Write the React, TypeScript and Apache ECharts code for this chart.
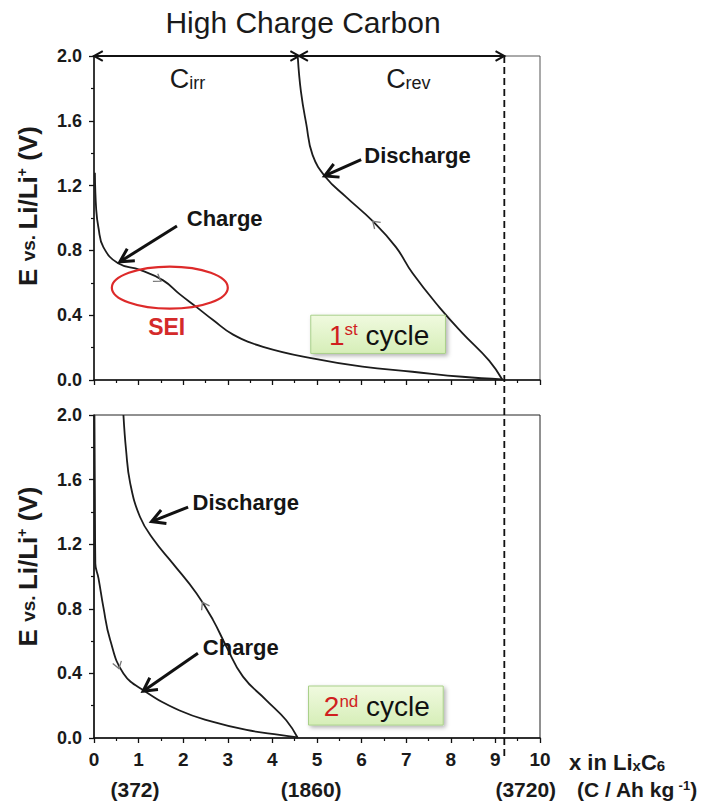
import React, { useEffect, useRef } from 'react';
import * as echarts from 'echarts';

// ---------- data ----------
const xTickValues = [0, 1, 2, 3, 4, 5, 6, 7, 8, 9, 10];

// 1st cycle (top panel)
const cycle1Charge: number[][] = [
  [0.02, 1.28], [0.05, 1.05], [0.1, 0.94], [0.21, 0.82], [0.54, 0.72], [1.03, 0.68],
  [1.55, 0.615], [1.92, 0.53], [2.3, 0.45], [2.67, 0.37], [3.12, 0.28], [3.79, 0.205],
  [4.9, 0.133], [6.02, 0.082], [7.14, 0.051], [8.26, 0.02], [9.16, 0.004],
];
const cycle1Discharge: number[][] = [
  [4.57, 1.99], [4.64, 1.78], [4.76, 1.58], [4.9, 1.39], [5.2, 1.25], [5.65, 1.13],
  [6.25, 0.98], [6.77, 0.82], [7.14, 0.66], [7.74, 0.45], [8.26, 0.29], [8.86, 0.12],
  [9.16, 0.0],
];
// 2nd cycle (bottom panel)
const cycle2Charge: number[][] = [
  [0.01, 2.0], [0.02, 1.5], [0.03, 1.08], [0.1, 0.99], [0.21, 0.81], [0.36, 0.61],
  [0.66, 0.4], [1.14, 0.29], [1.92, 0.17], [2.67, 0.1], [3.42, 0.05], [4.16, 0.019],
  [4.57, 0.004],
];
const cycle2Discharge: number[][] = [
  [0.66, 2.0], [0.72, 1.78], [0.81, 1.58], [1.03, 1.37], [1.33, 1.23], [1.77, 1.08],
  [2.3, 0.895], [2.67, 0.73], [2.97, 0.565], [3.34, 0.38], [3.86, 0.235], [4.31, 0.11],
  [4.57, 0.0],
];

// capacity boundaries (x in LixC6)
const irrEnd = 4.6;
const revEnd = 9.2;

// annotation arrows: [panel, fromX, fromY, toX, toY]
const annotationArrows: number[][] = [
  [0, 1.86, 0.95, 0.58, 0.73],
  [0, 5.99, 1.36, 5.17, 1.26],
  [1, 2.11, 1.43, 1.29, 1.34],
  [1, 2.33, 0.525, 1.1, 0.29],
];
// annotation labels: panel, x, y, text
const annotationLabels: [number, number, number, string][] = [
  [0, 2.08, 1.0, 'Charge'],
  [0, 6.06, 1.385, 'Discharge'],
  [1, 2.21, 1.46, 'Discharge'],
  [1, 2.44, 0.56, 'Charge'],
];
// small direction chevrons on curves: panel, fromX, fromY, toX, toY
const curveChevrons: number[][] = [
  [0, 1.3, 0.645, 1.5, 0.61],
  [0, 6.45, 0.93, 6.25, 0.98],
  [1, 0.45, 0.53, 0.56, 0.43],
  [1, 2.55, 0.78, 2.43, 0.84],
];
// SEI ellipse: center x, y, radius x, radius y (data units)
const seiEllipse = [1.7, 0.57, 1.3, 0.13];
const seiLabel = [1.63, 0.326];
// cycle boxes: panel, x1, y1(top), x2, y2(bottom), ordinal, suffix
const cycleBoxes: [number, number, number, number, number, string, string][] = [
  [0, 4.86, 0.4, 7.88, 0.164, '1', 'st'],
  [1, 4.81, 0.322, 7.83, 0.08, '2', 'nd'],
];
const capacityLabels: [number, string][] = [
  [0.92, '(372)'],
  [4.87, '(1860)'],
  [9.68, '(3720)'],
];

const FONT = '"Liberation Sans", Arial, Helvetica, sans-serif';

export default function App() {
  const ref = useRef<HTMLDivElement>(null);

  useEffect(() => {
    const chart = echarts.init(ref.current!, null, { renderer: 'svg' });

    const xAxisBase = (gridIndex: number, showLabels: boolean) => ({
      type: 'value',
      gridIndex,
      min: 0,
      max: 10,
      interval: 1,
      axisLine: { show: true, lineStyle: { color: '#111', width: 1.5 } },
      axisTick: { show: true, inside: false, length: 5, lineStyle: { color: '#111', width: 1.3 } },
      minorTick: { show: true, splitNumber: 2, length: 3, lineStyle: { color: '#111', width: 1.2 } },
      splitLine: { show: false },
      axisLabel: showLabels
        ? {
            show: true,
            margin: 12,
            fontFamily: FONT,
            fontWeight: 'bold',
            fontSize: 19,
            color: '#1a1a1a',
            customValues: xTickValues,
          }
        : { show: false },
    });
    const yAxisBase = (gridIndex: number) => ({
      type: 'value',
      gridIndex,
      min: 0,
      max: 2,
      interval: 0.4,
      axisLine: { show: true, lineStyle: { color: '#111', width: 1.5 } },
      axisTick: { show: true, inside: false, length: 5, lineStyle: { color: '#111', width: 1.3 } },
      minorTick: { show: true, splitNumber: 2, length: 3, lineStyle: { color: '#111', width: 1.2 } },
      splitLine: { show: false },
      axisLabel: {
        show: true,
        margin: 12,
        fontFamily: FONT,
        fontWeight: 'bold',
        fontSize: 18,
        color: '#1a1a1a',
        formatter: (v: number) => v.toFixed(1),
      },
    });
    const lineSeries = (data: number[][], idx: number) => ({
      type: 'line',
      xAxisIndex: idx,
      yAxisIndex: idx,
      data,
      showSymbol: false,
      smooth: 0.45,
      lineStyle: { color: '#1c1c1c', width: 1.8 },
      silent: true,
      z: 3,
    });

    chart.setOption({
      animation: false,
      backgroundColor: '#ffffff',
      grid: [
        { left: 94, top: 56, width: 446, height: 324, show: true, borderColor: '#555', borderWidth: 1 },
        { left: 94, top: 415, width: 446, height: 323, show: true, borderColor: '#222', borderWidth: 1 },
      ],
      xAxis: [xAxisBase(0, false), xAxisBase(1, true)],
      yAxis: [yAxisBase(0), yAxisBase(1)],
      series: [
        lineSeries(cycle1Charge, 0),
        lineSeries(cycle1Discharge, 0),
        lineSeries(cycle2Charge, 1),
        lineSeries(cycle2Discharge, 1),
      ],
    });

    const P = (g: number, x: number, y: number) =>
      chart.convertToPixel({ gridIndex: g }, [x, y]) as number[];

    const els: any[] = [];
    const Z = 20;

    const arrow = (a: number[], b: number[], w: number, head: number, color: string, spread = 0.45) => {
      const ang = Math.atan2(b[1] - a[1], b[0] - a[0]);
      const h1 = [b[0] - head * Math.cos(ang - spread), b[1] - head * Math.sin(ang - spread)];
      const h2 = [b[0] - head * Math.cos(ang + spread), b[1] - head * Math.sin(ang + spread)];
      els.push({
        type: 'line', z: Z, silent: true,
        shape: { x1: a[0], y1: a[1], x2: b[0], y2: b[1] },
        style: { stroke: color, lineWidth: w },
      });
      els.push({
        type: 'polyline', z: Z, silent: true,
        shape: { points: [h1, b, h2] },
        style: { stroke: color, lineWidth: w, fill: null, lineJoin: 'miter' },
      });
    };

    // title
    els.push({
      type: 'text', z: Z, x: 303, y: 22,
      style: { text: 'High Charge Carbon', font: `30px ${FONT}`, fill: '#1a1a1a', textAlign: 'center', textVerticalAlign: 'middle' },
    });

    // y-axis names
    const yName = (cy: number) => ({
      type: 'text', z: Z, x: 28, y: cy, rotation: Math.PI / 2,
      style: {
        text: '{b|E }{s|vs. }{b|Li/Li}{p|+}{b| (V)}',
        textAlign: 'center', textVerticalAlign: 'middle',
        rich: {
          b: { font: `bold 26px ${FONT}`, fill: '#1a1a1a' },
          s: { font: `bold 19px ${FONT}`, fill: '#1a1a1a' },
          p: { font: `bold 14px ${FONT}`, fill: '#1a1a1a', verticalAlign: 'top' },
        },
      },
    });
    const c0 = P(0, 0, 1)[1];
    const c1 = P(1, 0, 1)[1];
    els.push(yName(c0 - 12));
    els.push(yName(c1 - 10));

    // capacity double arrows at top
    const a0 = P(0, 0, 2), a1 = P(0, irrEnd, 2), a2 = P(0, revEnd, 2);
    arrow(a1, a0, 2, 10, '#111', 0.5);
    arrow(a0, a1, 2, 10, '#111', 0.5);
    arrow(a2, a1, 2, 10, '#111', 0.5);
    arrow(a1, a2, 2, 10, '#111', 0.5);

    // C_irr / C_rev labels
    const cLab = (x: number, sub: string) => {
      const p = P(0, x, 1.86);
      els.push({
        type: 'text', z: Z, x: p[0], y: p[1],
        style: {
          text: `{c|C}{s|${sub}}`, textAlign: 'left', textVerticalAlign: 'middle',
          rich: {
            c: { font: `27px ${FONT}`, fill: '#1a1a1a' },
            s: { font: `18px ${FONT}`, fill: '#1a1a1a', verticalAlign: 'bottom' },
          },
        },
      });
    };
    cLab(1.7, 'irr');
    cLab(6.55, 'rev');

    // dashed vertical line at the reversible capacity end
    const d0 = P(0, revEnd, 2), d1 = P(1, revEnd, 0);
    els.push({
      type: 'line', z: Z, silent: true,
      shape: { x1: d0[0], y1: d0[1], x2: d1[0], y2: d1[1] + 22 },
      style: { stroke: '#111', lineWidth: 1.8, lineDash: [7, 4] },
    });

    // annotation arrows & labels
    annotationArrows.forEach(([g, x1, y1, x2, y2]) => arrow(P(g, x1, y1), P(g, x2, y2), 3, 15, '#111', 0.5));
    annotationLabels.forEach(([g, x, y, t]) => {
      const p = P(g, x, y);
      els.push({
        type: 'text', z: Z, x: p[0], y: p[1],
        style: { text: t, font: `bold 22px ${FONT}`, fill: '#151515', textAlign: 'left', textVerticalAlign: 'middle' },
      });
    });
    curveChevrons.forEach(([g, x1, y1, x2, y2]) => {
      const a = P(g, x1, y1), b = P(g, x2, y2);
      const ang = Math.atan2(b[1] - a[1], b[0] - a[0]);
      const head = 8, spread = 0.6;
      els.push({
        type: 'polyline', z: Z, silent: true,
        shape: {
          points: [
            [b[0] - head * Math.cos(ang - spread), b[1] - head * Math.sin(ang - spread)],
            b,
            [b[0] - head * Math.cos(ang + spread), b[1] - head * Math.sin(ang + spread)],
          ],
        },
        style: { stroke: '#777', lineWidth: 1.3, fill: null },
      });
    });

    // SEI ellipse
    const ec = P(0, seiEllipse[0], seiEllipse[1]);
    const er = P(0, seiEllipse[0] + seiEllipse[2], seiEllipse[1] + seiEllipse[3]);
    els.push({
      type: 'ellipse', z: Z, silent: true,
      shape: { cx: ec[0], cy: ec[1], rx: Math.abs(er[0] - ec[0]), ry: Math.abs(er[1] - ec[1]) },
      style: { stroke: '#dd2a2a', lineWidth: 2.2, fill: null },
    });
    const sp = P(0, seiLabel[0], seiLabel[1]);
    els.push({
      type: 'text', z: Z, x: sp[0], y: sp[1],
      style: { text: 'SEI', font: `bold 23px ${FONT}`, fill: '#d42a2a', textAlign: 'center', textVerticalAlign: 'middle' },
    });

    // cycle boxes
    cycleBoxes.forEach(([g, x1, y1, x2, y2, ord, suf]) => {
      const p1 = P(g, x1, y1), p2 = P(g, x2, y2);
      els.push({
        type: 'rect', z: Z, silent: true,
        shape: { x: p1[0], y: p1[1], width: p2[0] - p1[0], height: p2[1] - p1[1] },
        style: {
          fill: new echarts.graphic.LinearGradient(0, 0, 0, 1, [
            { offset: 0, color: '#f0fadf' },
            { offset: 1, color: '#d6eeb8' },
          ]),
          stroke: '#a9d08a',
          lineWidth: 1,
          shadowBlur: 4,
          shadowOffsetX: 2,
          shadowOffsetY: 2,
          shadowColor: 'rgba(0,0,0,0.3)',
        },
      });
      els.push({
        type: 'text', z: Z + 1, x: (p1[0] + p2[0]) / 2 + 1, y: (p1[1] + p2[1]) / 2 + 1,
        style: {
          text: `{r|${ord}}{rs|${suf}}{k| cycle}`,
          textAlign: 'center', textVerticalAlign: 'middle',
          rich: {
            r: { font: `28px ${FONT}`, fill: '#d01f1f' },
            rs: { font: `17px ${FONT}`, fill: '#d01f1f', verticalAlign: 'top' },
            k: { font: `28px ${FONT}`, fill: '#111' },
          },
        },
      });
    });

    // x-axis name and capacity labels
    const xBase = P(1, 0, 0)[1];
    els.push({
      type: 'text', z: Z, x: 569, y: xBase + 24,
      style: {
        text: '{a|x in Li}{s|x}{a|C}{s|6}', textAlign: 'left', textVerticalAlign: 'middle',
        rich: {
          a: { font: `bold 22px ${FONT}`, fill: '#1a1a1a' },
          s: { font: `bold 15px ${FONT}`, fill: '#1a1a1a', verticalAlign: 'bottom' },
        },
      },
    });
    capacityLabels.forEach(([x, t]) => {
      const p = P(1, x, 0);
      els.push({
        type: 'text', z: Z, x: p[0], y: xBase + 51,
        style: { text: t, font: `bold 21px ${FONT}`, fill: '#1a1a1a', textAlign: 'center', textVerticalAlign: 'middle' },
      });
    });
    els.push({
      type: 'text', z: Z, x: 577, y: xBase + 51,
      style: {
        text: '{a|(C / Ah kg}{p| -1}{a|)}', textAlign: 'left', textVerticalAlign: 'middle',
        rich: {
          a: { font: `bold 21px ${FONT}`, fill: '#1a1a1a' },
          p: { font: `bold 13px ${FONT}`, fill: '#1a1a1a', verticalAlign: 'top' },
        },
      },
    });

    chart.setOption({ graphic: { elements: els } });

    return () => chart.dispose();
  }, []);

  return <div ref={ref} style={{ position: 'absolute', left: 0, top: 0, width: 719, height: 810 }} />;
}
